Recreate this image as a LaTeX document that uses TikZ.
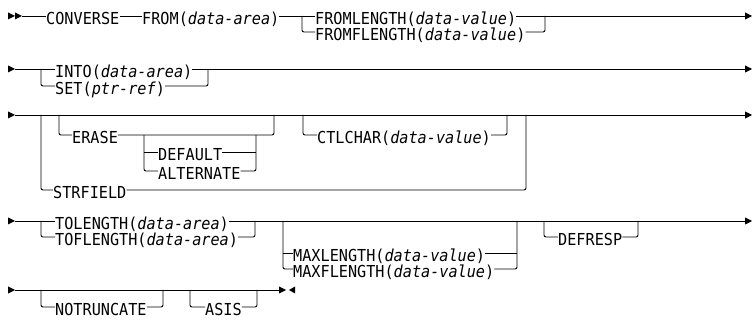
\documentclass[tikz,border=0pt]{standalone}
\usepackage{fontspec}
\setmonofont[FakeStretch=0.92]{DejaVu Sans Mono}
\usetikzlibrary{arrows.meta}
\tikzset{
  lbl/.style={inner sep=0pt, text height=16.5pt, text depth=0pt, anchor=west,
    font=\ttfamily\fontsize{16.5}{16.5}\selectfont},
  rr/.style={line width=0.9pt, rounded corners=2pt},
  endarr/.style={-{Triangle[length=7pt,width=7pt]}},
  tri/.style={fill=black},
}
\newcommand\va[1]{\textit{#1}}
\begin{document}
\begin{tikzpicture}[x=1pt,y=-1pt]
\useasboundingbox (0,0) rectangle (752,320);
% ---------- row 1
\fill[tri] (15,16) -- ++(-7,-3.5) -- ++(0,7) -- cycle;
\fill[tri] (22,16) -- ++(-7,-3.5) -- ++(0,7) -- cycle;
\coordinate (s1) at (22,16);
\coordinate (e1) at (752,16);
\node[lbl] (conv) at (46,16) {CONVERSE};
\node[lbl] (from) at (142,16) {FROM(\va{data-area})};
\node[lbl] (flen) at (315,16) {FROMLENGTH(\va{data-value})};
\node[lbl] (fflen) at (315,32) {FROMFLENGTH(\va{data-value})};
\coordinate (b1) at (302,16);
\coordinate (r1) at (545,16);
\draw[rr] (s1) -- (conv.west);
\draw[rr] (conv.east) -- (from.west);
\draw[rr] (from.east) -- (flen.west);
\draw[rr] (b1) |- (fflen.west);
\draw[rr,endarr] (flen.east) -- (e1);
\draw[rr] (fflen.east) -| (r1);
% ---------- row 2
\fill[tri] (15,69) -- ++(-7,-3.5) -- ++(0,7) -- cycle;
\coordinate (s2) at (15,69);
\coordinate (e2) at (752,69);
\node[lbl] (into) at (55,69) {INTO(\va{data-area})};
\node[lbl] (set) at (55,86) {SET(\va{ptr-ref})};
\coordinate (b2) at (41,69);
\coordinate (r2) at (208,69);
\draw[rr] (s2) -- (into.west);
\draw[rr] (b2) |- (set.west);
\draw[rr,endarr] (into.east) -- (e2);
\draw[rr] (set.east) -| (r2);
% ---------- row 3
\fill[tri] (15,115) -- ++(-7,-3.5) -- ++(0,7) -- cycle;
\coordinate (s3) at (15,115);
\coordinate (e3) at (752,115);
\draw[rr,endarr] (s3) -- (e3);
\node[lbl] (strf) at (53,190) {STRFIELD};
\node[lbl] (erase) at (72,135) {ERASE};
\node[lbl] (dflt) at (158,152) {DEFAULT};
\node[lbl] (alt) at (158,171) {ALTERNATE};
\node[lbl] (ctl) at (317,135) {CTLCHAR(\va{data-value})};
\coordinate (b3) at (41,115);
\coordinate (r3) at (526,115);
\coordinate (be) at (59,115);
\coordinate (re) at (274,115);
\coordinate (bd) at (144,135);
\coordinate (rd) at (256,135);
\coordinate (bc) at (303,115);
\coordinate (rc) at (507,115);
\draw[rr] (b3) |- (strf.west);
\draw[rr] (strf.east) -| (r3);
\draw[rr] (be) |- (erase.west);
\draw[rr] (erase.east) -| (re);
\draw[rr] (bd) |- (alt.west);
\draw[rr] (bd |- dflt.west) -- (dflt.west);
\draw[rr] (dflt.east) -- (rd |- dflt.east);
\draw[rr] (alt.east) -| (rd);
\draw[rr] (bc) |- (ctl.west);
\draw[rr] (ctl.east) -| (rc);
% ---------- row 4
\fill[tri] (15,221) -- ++(-7,-3.5) -- ++(0,7) -- cycle;
\coordinate (s4) at (15,221);
\coordinate (e4) at (752,221);
\node[lbl] (tol) at (55,221) {TOLENGTH(\va{data-area})};
\node[lbl] (tofl) at (55,237) {TOFLENGTH(\va{data-area})};
\node[lbl] (maxl) at (293,253) {MAXLENGTH(\va{data-value})};
\node[lbl] (maxfl) at (293,269) {MAXFLENGTH(\va{data-value})};
\node[lbl] (defr) at (558,237) {DEFRESP};
\coordinate (b4) at (41,221);
\coordinate (r4) at (255,221);
\coordinate (bm) at (283,221);
\coordinate (rm) at (517,221);
\coordinate (bdr) at (544,221);
\coordinate (rdr) at (638,221);
\draw[rr] (s4) -- (tol.west);
\draw[rr,endarr] (tol.east) -- (e4);
\draw[rr] (b4) |- (tofl.west);
\draw[rr] (tofl.east) -| (r4);
\draw[rr] (bm) |- (maxfl.west);
\draw[rr] (bm |- maxl.west) -- (maxl.west);
\draw[rr] (maxl.east) -- (rm |- maxl.east);
\draw[rr] (maxfl.east) -| (rm);
\draw[rr] (bdr) |- (defr.west);
\draw[rr] (defr.east) -| (rdr);
% ---------- row 5
\fill[tri] (15,290) -- ++(-7,-3.5) -- ++(0,7) -- cycle;
\coordinate (s5) at (15,290);
\coordinate (e5) at (279,290);
\draw[rr] (s5) -- (e5);
\fill[tri] (286,290) -- ++(-7,-3.5) -- ++(0,7) -- cycle;
\fill[tri] (289,290) -- ++(6,-3.5) -- ++(0,7) -- cycle;
\node[lbl] (notr) at (55,307) {NOTRUNCATE};
\node[lbl] (asis) at (205,307) {ASIS};
\coordinate (bn) at (41,290);
\coordinate (rn) at (163,290);
\coordinate (ba) at (190,290);
\coordinate (ra) at (257,290);
\draw[rr] (bn) |- (notr.west);
\draw[rr] (notr.east) -| (rn);
\draw[rr] (ba) |- (asis.west);
\draw[rr] (asis.east) -| (ra);
\end{tikzpicture}
\end{document}
